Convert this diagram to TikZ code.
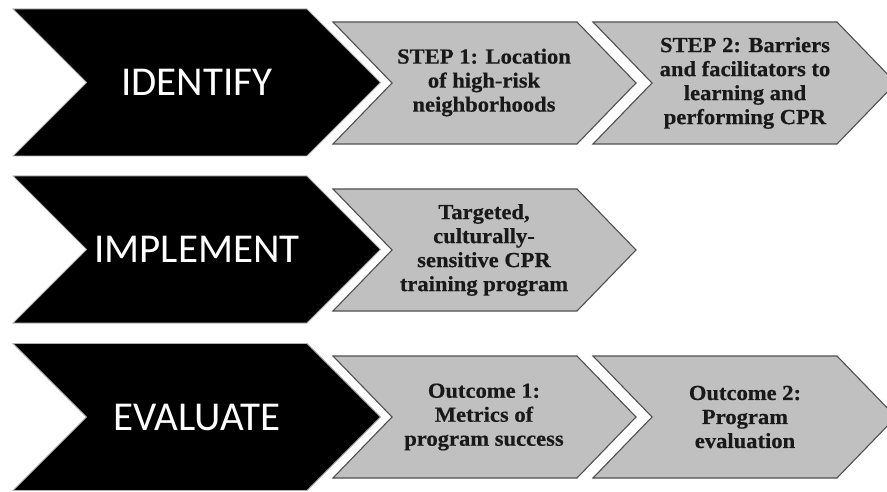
\documentclass[tikz,border=0pt]{standalone}
\usepackage{fontspec}
\setmainfont{Liberation Serif}
\newfontfamily\phasefont{Carlito}
\newfontfamily\stepfont[FakeStretch=1.05, BoldFeatures={FakeBold=0.5}]{Liberation Serif}
\definecolor{stepgray}{RGB}{192,192,192}
\definecolor{edgegray}{RGB}{80,80,80}
\tikzset{
    phasearrow/.style={fill=black, draw=gray!60, line width=0.8pt, line join=miter},
    steparrow/.style={fill=stepgray, draw=edgegray, line width=1.1pt, line join=miter},
    phase/.style={text=white, font=\phasefont\fontsize{41}{48}\selectfont},
    stepbox/.style={text=black!90, align=center,
        font=\stepfont\bfseries\fontsize{21.5}{24}\selectfont},
}

\begin{document}
\begin{tikzpicture}[x=1pt, y=-1pt]
    \useasboundingbox (0,0) rectangle (887,492);

    % black phase chevrons
    \draw[phasearrow] (13,9)     -- ++(294,0) -- ++(73.5,73.5) -- ++(-73.5,73.5) -- ++(-294,0) -- ++(73.5,-73.5) -- cycle;
    \draw[phasearrow] (13,176)   -- ++(294,0) -- ++(73.5,73.5) -- ++(-73.5,73.5) -- ++(-294,0) -- ++(73.5,-73.5) -- cycle;
    \draw[phasearrow] (13,343.5) -- ++(294,0) -- ++(73.5,73.5) -- ++(-73.5,73.5) -- ++(-294,0) -- ++(73.5,-73.5) -- cycle;

    % grey step chevrons
    \draw[steparrow] (333,22)  -- ++(244,0) -- ++(59,61) -- ++(-59,61) -- ++(-244,0) -- ++(59,-61) -- cycle;
    \draw[steparrow] (593,22)  -- ++(244,0) -- ++(59,61) -- ++(-59,61) -- ++(-244,0) -- ++(59,-61) -- cycle;
    \draw[steparrow] (333,189) -- ++(244,0) -- ++(59,61) -- ++(-59,61) -- ++(-244,0) -- ++(59,-61) -- cycle;
    \draw[steparrow] (333,356) -- ++(244,0) -- ++(59,61) -- ++(-59,61) -- ++(-244,0) -- ++(59,-61) -- cycle;
    \draw[steparrow] (593,356) -- ++(244,0) -- ++(59,61) -- ++(-59,61) -- ++(-244,0) -- ++(59,-61) -- cycle;

    % labels
    \node[phase] (identify)  at (197,82.5) {IDENTIFY};
    \node[phase] (implement) at (197,249.5) {IMPLEMENT};
    \node[phase] (evaluate)  at (197,417) {EVALUATE};

    \node[stepbox] (step1) at (484,82.5) {STEP 1: Location\\of high-risk\\neighborhoods};
    \node[stepbox] (step2) at (745,83) {STEP 2: Barriers\\and facilitators to\\learning and\\performing CPR};
    \node[stepbox] (train) at (484,250) {Targeted,\\culturally-\\sensitive CPR\\training program};
    \node[stepbox] (out1)  at (484,417) {Outcome 1:\\Metrics of\\program success};
    \node[stepbox] (out2)  at (745,417) {Outcome 2:\\Program\\evaluation};
\end{tikzpicture}
\end{document}
